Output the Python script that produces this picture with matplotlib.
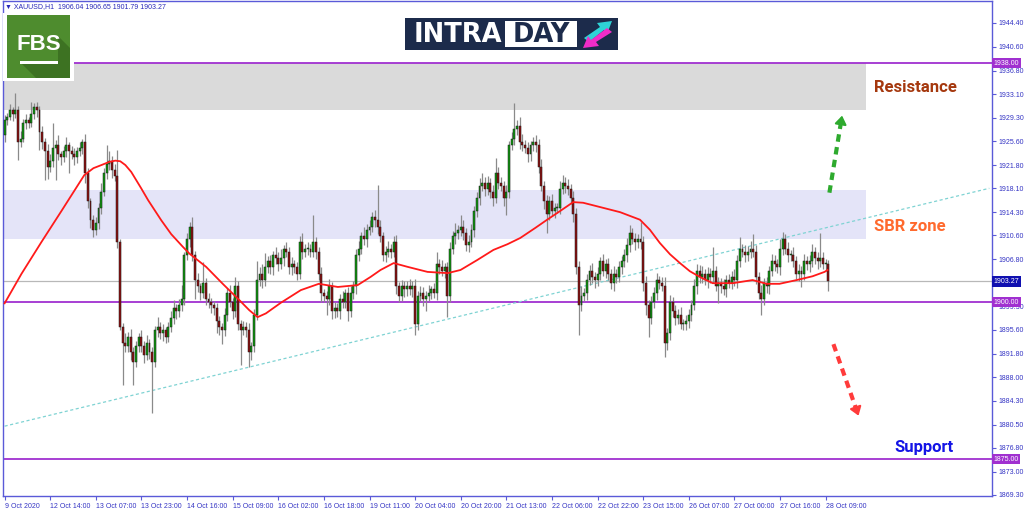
import numpy as np
import matplotlib
matplotlib.use("Agg")
import matplotlib.pyplot as plt
from matplotlib.patches import Rectangle, Polygon
import matplotlib.transforms as mtransforms

# ---------------- data ----------------
symbol_header = "\u25BC XAUUSD,H1  1906.04 1906.65 1901.79 1903.27"
first_open = 1926.5
close = [
 1929.0,1929.5,1930.5,1930.0,1930.5,1925.5,1926.0,1928.5,1929.0,1928.5,
 1930.0,1931.0,1930.5,1927.0,1925.5,1924.0,1921.5,1922.5,1924.5,1925.0,
 1923.5,1923.0,1924.0,1925.0,1924.0,1923.5,1923.0,1924.0,1924.5,1925.5,
 1920.5,1916.0,1913.0,1911.5,1912.5,1915.0,1917.5,1920.5,1922.0,1922.5,
 1921.0,1920.0,1909.5,1896.0,1893.5,1893.0,1894.5,1892.0,1890.5,1893.0,
 1894.5,1893.0,1891.5,1893.5,1892.0,1890.5,1895.5,1896.0,1895.0,1895.5,
 1894.5,1896.0,1897.5,1899.0,1898.5,1899.5,1900.5,1907.5,1910.0,1912.0,
 1907.5,1903.5,1902.5,1901.5,1903.0,1900.5,1900.0,1899.5,1899.0,1897.0,
 1896.0,1895.5,1898.0,1901.5,1900.0,1898.5,1902.5,1896.5,1895.5,1896.0,
 1895.5,1892.0,1893.0,1898.0,1903.5,1904.5,1903.5,1905.5,1906.5,1905.5,
 1907.5,1907.0,1906.0,1907.0,1908.5,1908.0,1905.5,1906.0,1905.5,1904.5,
 1909.5,1908.0,1908.5,1908.5,1908.0,1909.5,1908.0,1904.5,1901.5,1901.0,
 1900.5,1902.5,1898.5,1899.0,1898.5,1900.5,1900.0,1901.5,1898.5,1901.5,
 1902.5,1907.5,1908.5,1910.5,1910.0,1911.5,1912.0,1913.5,1913.0,1912.0,
 1910.5,1907.5,1908.0,1908.5,1908.0,1909.5,1902.5,1901.0,1902.5,1902.0,
 1902.5,1902.0,1902.5,1896.5,1901.0,1901.5,1900.5,1901.0,1901.5,1902.0,
 1901.5,1906.0,1905.5,1905.0,1905.5,1901.0,1908.5,1910.5,1911.0,1911.5,
 1912.0,1911.0,1909.0,1909.5,1911.5,1914.5,1916.5,1918.5,1919.0,1918.0,
 1919.0,1917.5,1916.5,1920.5,1919.0,1918.5,1916.5,1917.5,1925.0,1926.0,
 1927.5,1928.0,1925.5,1925.0,1924.5,1923.5,1925.0,1925.5,1925.0,1921.5,
 1918.5,1916.0,1914.0,1916.0,1914.5,1915.0,1915.0,1918.0,1919.0,1918.5,
 1918.0,1916.5,1914.0,1905.5,1899.5,1901.0,1901.5,1903.5,1905.0,1904.0,
 1903.5,1904.5,1906.5,1905.0,1906.0,1904.5,1903.0,1904.5,1904.0,1905.5,
 1906.5,1907.5,1909.0,1911.0,1910.0,1909.5,1910.0,1909.5,1903.0,1899.5,
 1897.5,1900.0,1901.5,1903.5,1903.0,1902.5,1893.5,1895.0,1900.0,1898.5,
 1897.5,1898.0,1896.5,1896.5,1897.0,1898.0,1899.5,1902.5,1905.0,1904.0,
 1904.5,1903.5,1904.5,1904.0,1905.0,1902.5,1903.0,1902.5,1902.0,1903.5,
 1903.0,1904.0,1903.5,1906.5,1908.5,1908.0,1907.5,1908.0,1908.5,1908.0,
 1904.0,1901.5,1900.5,1903.0,1902.5,1905.0,1906.5,1906.0,1905.5,1908.5,
 1910.0,1908.5,1907.5,1907.5,1906.5,1904.5,1905.0,1904.5,1906.5,1906.0,
 1906.5,1908.0,1907.0,1906.5,1907.0,1906.0,1906.04,1903.27]
upper_wick = [
 0.8,0.6,1.0,0.5,2.8,0.7,1.2,0.6,0.9,0.5,
 1.8,0.6,0.8,0.7,1.0,0.6,1.2,1.0,4.0,0.8,
 1.5,0.6,0.9,1.2,0.5,0.8,1.0,0.7,0.9,0.4,
 1.2,0.8,0.6,0.9,1.0,0.7,1.4,0.8,3.0,1.5,
 0.8,1.0,4.2,0.6,0.7,1.5,0.8,1.2,0.9,0.8,
 0.5,1.0,0.8,1.2,0.6,0.9,0.7,1.7,0.8,1.0,
 0.6,0.9,1.0,1.3,0.7,1.0,2.2,0.5,1.0,0.8,
 1.5,0.7,1.2,0.6,3.3,0.8,1.0,0.6,0.7,0.9,
 0.8,0.6,1.0,0.8,1.2,0.6,1.5,0.9,0.7,1.0,
 0.8,1.2,0.6,0.9,3.0,1.0,1.5,2.3,0.8,1.0,
 0.7,1.2,0.9,1.5,0.6,1.0,0.8,1.2,0.7,0.9,
 1.0,1.5,0.8,1.0,0.7,4.4,0.9,0.8,1.0,0.6,
 0.8,1.2,0.7,1.0,0.9,0.8,1.2,0.6,0.9,1.0,
 0.8,1.0,1.2,0.7,1.5,0.9,1.0,0.8,1.2,5.6,
 1.0,0.7,0.9,1.2,0.8,1.0,1.2,0.7,1.0,0.8,
 0.9,1.1,0.8,1.2,0.7,1.0,0.9,0.8,1.2,0.6,
 1.0,2.0,0.8,1.2,0.7,0.9,1.0,0.8,1.5,0.7,
 1.9,1.0,0.8,1.2,0.9,0.8,1.0,1.2,1.6,0.9,
 1.0,0.8,1.2,2.4,1.0,0.9,0.8,1.2,0.7,1.0,
 4.2,1.0,1.5,1.2,0.8,1.0,0.7,0.8,1.0,0.9,
 1.2,0.8,1.0,0.9,1.2,0.7,0.8,1.2,1.2,0.9,
 1.0,0.8,1.2,0.9,1.0,1.5,0.8,1.0,0.9,1.2,
 0.8,1.0,0.7,1.2,0.9,1.0,0.8,1.2,0.7,1.0,
 0.9,1.0,1.2,1.3,0.8,1.0,0.9,2.8,1.0,1.2,
 0.8,1.0,0.9,1.2,0.7,1.0,1.5,0.9,1.2,0.8,
 1.0,0.9,1.2,0.8,1.0,0.9,0.8,1.2,1.0,0.9,
 1.2,0.8,1.0,0.9,3.8,0.8,1.0,0.9,1.2,0.8,
 1.0,0.9,1.2,1.0,1.9,0.8,1.0,0.9,1.2,2.4,
 1.0,0.8,1.2,0.9,1.0,0.8,1.2,1.0,0.9,1.5,
 1.2,0.9,1.0,0.8,1.2,0.9,1.0,0.8,1.2,0.9,
 1.0,1.2,0.8,1.0,4.0,0.9,0.8,0.61]
lower_wick = [
 1.0,0.8,0.6,1.2,0.7,2.9,0.9,0.6,1.0,0.8,
 0.7,0.9,1.0,2.8,1.2,4.6,2.0,0.8,1.0,5.1,
 0.9,1.2,0.7,1.0,3.5,0.8,1.2,0.9,0.7,1.0,
 1.5,1.0,1.2,1.2,0.9,0.8,1.0,0.7,0.9,1.0,
 1.2,0.8,0.9,0.5,6.7,1.0,0.9,1.2,3.7,0.8,
 1.0,0.9,1.2,0.8,1.0,8.1,0.9,1.0,0.8,1.2,
 1.0,0.9,0.8,1.0,1.2,0.8,0.9,1.0,0.8,1.2,
 1.0,3.0,0.9,1.2,0.8,1.0,0.9,1.2,1.0,2.0,
 1.2,2.2,0.9,1.0,0.8,1.2,0.9,1.0,5.5,0.8,
 1.0,2.3,1.2,0.9,0.8,1.0,1.2,0.9,0.8,1.0,
 1.2,0.9,1.0,0.8,1.2,0.9,1.0,1.2,0.8,1.0,
 0.9,1.2,0.8,1.0,0.9,0.8,1.2,1.0,1.5,1.0,
 2.5,0.9,1.2,1.0,0.8,1.2,0.9,1.0,1.5,0.8,
 1.0,1.2,0.9,0.8,1.0,1.2,0.9,0.8,1.0,1.2,
 0.9,1.0,1.2,0.8,1.0,0.9,1.2,1.0,0.8,1.2,
 1.0,0.9,1.2,1.7,1.0,0.8,1.2,2.0,0.9,1.0,
 0.8,1.2,1.0,0.9,1.2,3.4,1.0,0.8,1.2,0.9,
 1.0,1.2,0.9,1.0,0.8,1.2,0.9,1.0,0.8,1.2,
 1.0,0.9,1.2,0.8,1.0,0.9,1.2,2.6,1.0,0.8,
 1.0,0.9,1.2,1.0,0.8,1.2,1.0,0.9,1.2,1.0,
 0.9,1.2,3.0,1.0,0.8,1.2,0.9,1.0,0.8,1.2,
 1.0,0.9,1.2,1.0,4.8,1.0,0.9,1.2,0.8,1.0,
 1.2,0.9,1.0,0.8,1.2,1.0,0.9,1.2,1.0,0.8,
 1.0,0.9,1.2,1.0,0.8,1.2,0.9,1.0,1.2,1.5,
 3.0,1.0,0.9,1.2,1.0,0.8,2.2,1.2,1.0,0.9,
 1.2,1.0,0.8,1.0,0.9,1.2,1.0,0.8,1.2,0.9,
 1.0,0.8,1.2,0.9,1.0,0.8,2.7,1.0,0.9,1.2,
 0.8,1.0,0.9,1.2,1.0,0.8,1.2,0.9,1.0,0.8,
 1.2,1.0,2.6,0.9,1.0,1.2,0.8,1.0,0.9,1.2,
 1.0,0.8,1.2,0.9,1.0,0.8,1.2,2.1,1.0,0.9,
 1.2,1.0,0.9,1.2,1.0,0.8,1.0,1.48]

# moving average (red line) read at bar positions
ma_bar = [0, 6.3, 13.8, 21.2, 29.7, 33.1, 36.1, 39.0, 41.3, 43.1, 45.0, 47.2, 50.9, 53.5,
          58.4, 62.1, 66.4, 68.9, 75.1, 81.3, 87.5, 91.2, 94.3, 97.4, 103.0, 110.4, 117.1,
          124.2, 131.6, 136.4, 140.1, 145.0, 150.2, 157.6, 165.1, 169.9, 176.2, 182.2, 187.4,
          192.2, 197.8, 202.2, 207.1, 211.9, 215.6, 219.3, 229.4, 236.8, 240.5, 244.2, 248.0,
          251.7, 255.4, 259.1, 263.9, 271.4, 275.8, 278.8, 284.0, 288.8, 295.2, 301.1, 305.6,
          306.7]
ma_val = [1899.8, 1904.5, 1909.6, 1914.5, 1920.2, 1921.3, 1921.8, 1922.3, 1922.5, 1922.4,
          1921.8, 1920.7, 1918.1, 1916.2, 1913.0, 1910.8, 1908.8, 1907.7, 1905.6, 1902.9,
          1900.3, 1898.7, 1897.6, 1898.2, 1899.9, 1901.9, 1902.9, 1902.4, 1902.7, 1904.0,
          1905.1, 1906.2, 1905.6, 1904.8, 1904.6, 1905.1, 1906.7, 1908.3, 1909.2, 1910.2,
          1911.8, 1913.1, 1914.5, 1915.9, 1915.8, 1915.4, 1914.3, 1913.1, 1911.5, 1909.4,
          1907.6, 1906.2, 1904.9, 1904.0, 1903.0, 1903.0, 1903.3, 1903.5, 1902.9, 1902.9,
          1903.5, 1904.1, 1904.8, 1905.1]

x_tick_bars = [0, 17, 34, 51, 68, 85, 102, 119, 136, 153, 170, 187, 204, 221, 238, 255, 272, 289, 306]
x_tick_labels = ["9 Oct 2020", "12 Oct 14:00", "13 Oct 07:00", "13 Oct 23:00", "14 Oct 16:00",
                 "15 Oct 09:00", "16 Oct 02:00", "16 Oct 18:00", "19 Oct 11:00", "20 Oct 04:00",
                 "20 Oct 20:00", "21 Oct 13:00", "22 Oct 06:00", "22 Oct 22:00", "23 Oct 15:00",
                 "26 Oct 07:00", "27 Oct 00:00", "27 Oct 16:00", "28 Oct 09:00"]
y_ticks = [1944.40, 1940.60, 1936.80, 1933.10, 1929.30, 1925.60, 1921.80, 1918.10, 1914.30,
           1910.60, 1906.80, 1899.30, 1895.60, 1891.80, 1888.00, 1884.30, 1880.50,
           1876.80, 1873.00, 1869.30]

resistance_level = 1938.00
pivot_level = 1900.00
support_level = 1875.00
last_price = 1903.27
resistance_zone = (1930.5, 1938.0)
sbr_zone = (1910.0, 1917.8)
trend_bars = [0, 367]
trend_prices = [1880.25, 1918.1]
arrow_up = [(307.4, 1917.4), (312.3, 1930.1)]
arrow_down = [(308.9, 1893.3), (318.6, 1881.5)]

# ---------------- figure ----------------
W, H = 1024, 511
fig = plt.figure(figsize=(W / 100, H / 100), dpi=100)
fig.patch.set_facecolor("white")

def fx(x):
    return x / W

def fy(y):
    return 1 - y / H

ax = fig.add_axes([fx(3), fy(496), 989 / W, 495 / H])
ax.set_facecolor("white")
n = len(close)
idx = np.arange(n)
opens = np.array([first_open] + close[:-1])
closes = np.array(close)
highs = np.maximum(opens, closes) + np.array(upper_wick)
lows = np.minimum(opens, closes) - np.array(lower_wick)

ax.set_xlim(-0.6, 368.0)
ax.set_ylim(1869.14, 1947.9)

zone_end = 321
ax.fill_between([-1, zone_end], resistance_zone[0], resistance_zone[1], color="#DADADA", lw=0, zorder=0.5)
ax.fill_between([-1, zone_end], sbr_zone[0], sbr_zone[1], color="#E4E4F8", lw=0, zorder=0.5)

purple = "#A030D0"
for lvl in (resistance_level, pivot_level, support_level):
    ax.axhline(lvl, color=purple, lw=1.3, zorder=1)
ax.axhline(last_price, color="#B8B8B8", lw=0.9, zorder=1)

ax.plot(trend_bars, trend_prices, color="#7FD3D3", lw=0.9, ls=(0, (2.5, 2)), zorder=1.2)

# candles
ax.vlines(idx, lows, highs, color="#8A8A8A", lw=0.9, zorder=2)
up = closes >= opens
body_bottom = np.minimum(opens, closes)
body_h = np.maximum(np.abs(closes - opens), 0.15)
ax.bar(idx[up], body_h[up], bottom=body_bottom[up], width=0.72, color="#109A10",
       edgecolor="#1A1A1A", linewidth=0.35, zorder=3)
ax.bar(idx[~up], body_h[~up], bottom=body_bottom[~up], width=0.72, color="#8E1010",
       edgecolor="#1A1A1A", linewidth=0.35, zorder=3)

ax.plot(ma_bar, ma_val, color="#FF1A1A", lw=1.3, zorder=4, solid_joinstyle="round")

# arrows
for (p0, p1), col in ((arrow_up, "#2EAA2E"), (arrow_down, "#FF3B3B")):
    ax.plot([p0[0], p0[0] + (p1[0] - p0[0]) * 0.85], [p0[1], p0[1] + (p1[1] - p0[1]) * 0.85],
            color=col, lw=3.0, ls=(0, (1.8, 1.3)), solid_capstyle="butt", zorder=5)
    ax.annotate("", xy=p1, xytext=(p0[0] + (p1[0] - p0[0]) * 0.8, p0[1] + (p1[1] - p0[1]) * 0.8),
                arrowprops=dict(arrowstyle="-|>,head_length=0.5,head_width=0.35", color=col, lw=1.5),
                zorder=5)

# annotations
ax.text(339.4, 1934.2, "Resistance", color="#A5380E", fontsize=12, fontweight="bold",
        ha="center", va="center", family="Roboto", zorder=6)
ax.text(337.2, 1912.1, "SBR zone", color="#FF6A2E", fontsize=12, fontweight="bold",
        ha="center", va="center", family="Roboto", zorder=6)
ax.text(342.8, 1876.9, "Support", color="#1414E6", fontsize=12, fontweight="bold",
        ha="center", va="center", family="Roboto", zorder=6)

# axes styling
axcol = "#5A5AD8"
lblcol = "#3434C4"
for s in ax.spines.values():
    s.set_color(axcol)
    s.set_linewidth(1.0)
ax.yaxis.tick_right()
ax.set_yticks(y_ticks)
ax.set_yticklabels([f"{v:.2f}" for v in y_ticks])
ax.set_xticks(x_tick_bars)
ax.set_xticklabels(x_tick_labels)
ax.tick_params(axis="both", colors=axcol, labelcolor=lblcol, labelsize=5, length=3, width=0.8, pad=2)
for lab in ax.get_xticklabels() + ax.get_yticklabels():
    lab.set_family("Liberation Sans")
for lab in ax.get_xticklabels():
    lab.set_horizontalalignment("left")

# price boxes on right axis
trans = mtransforms.blended_transform_factory(ax.transAxes, ax.transData)
for lvl, fc in ((resistance_level, purple), (pivot_level, purple), (support_level, purple),
                (last_price, "#1010B0")):
    ax.text(1.0015, lvl, f"{lvl:.2f}", transform=trans, ha="left", va="center", fontsize=5,
            color="white", family="Liberation Sans", clip_on=False, zorder=10,
            bbox=dict(boxstyle="square,pad=0.25", fc=fc, ec="none"))

# header text
fig.text(fx(5), fy(7), symbol_header, fontsize=5, color="#2828B8", ha="left", va="center",
         family=["Liberation Sans", "DejaVu Sans"])

# FBS logo
fig.patches.append(Rectangle((fx(3), fy(81)), 71 / W, 68 / H, transform=fig.transFigure,
                             fc="white", ec="none", zorder=20))
fig.patches.append(Rectangle((fx(7), fy(78)), 63 / W, 63 / H, transform=fig.transFigure,
                             fc="#4E8C2E", ec="none", zorder=21))
fig.patches.append(Polygon([(fx(22), fy(64)), (fx(58), fy(64)), (fx(58), fy(36)), (fx(70), fy(48)),
                            (fx(70), fy(78)), (fx(36), fy(78))], closed=True,
                           transform=fig.transFigure, fc="#3D7222", ec="none", zorder=22))
fig.text(fx(39), fy(44), "FBS", fontsize=16, fontweight="bold", color="white", ha="center",
         va="center", family="Liberation Sans", zorder=23)
fig.patches.append(Rectangle((fx(20), fy(64)), 38 / W, 3 / H, transform=fig.transFigure,
                             fc="white", ec="none", zorder=23))

# INTRADAY logo
fig.patches.append(Rectangle((fx(405), fy(50)), 213 / W, 32 / H, transform=fig.transFigure,
                             fc="#1C2B4B", ec="none", zorder=20))
fig.patches.append(Rectangle((fx(505), fy(47)), 72 / W, 26 / H, transform=fig.transFigure,
                             fc="white", ec="none", zorder=21))
fig.text(fx(458), fy(34.5), "INTRA", fontsize=18.5, fontweight="bold", color="white", ha="center",
         va="center", family="DejaVu Sans", zorder=22)
fig.text(fx(541), fy(34.5), "DAY", fontsize=18.5, fontweight="bold", color="#1C2B4B", ha="center",
         va="center", family="DejaVu Sans", zorder=22)
fig.patches.append(Polygon([(fx(584), fy(38)), (fx(600), fy(27)), (fx(597), fy(23)), (fx(612), fy(21)),
                            (fx(607), fy(34)), (fx(604), fy(30)), (fx(589), fy(42))], closed=True,
                           transform=fig.transFigure, fc="#2ED3D6", ec="none", zorder=22))
fig.patches.append(Polygon([(fx(612), fy(32)), (fx(596), fy(42)), (fx(599), fy(46)), (fx(583), fy(48)),
                            (fx(588), fy(36)), (fx(591), fy(40)), (fx(607), fy(28))], closed=True,
                           transform=fig.transFigure, fc="#F02CC8", ec="none", zorder=22))

fig.savefig("out.png", dpi=100, facecolor="white")
